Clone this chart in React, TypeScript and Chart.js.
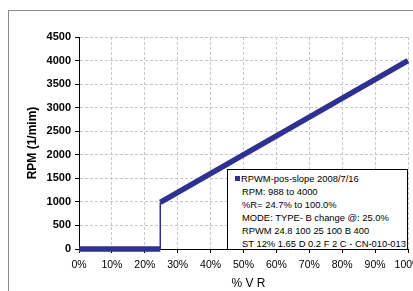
import React, { useEffect, useRef } from "react";
import { Chart, registerables } from "chart.js";

Chart.register(...registerables);

const xPercent = [0, 24.7, 24.7, 100];
const rpmValues = [0, 0, 988, 4000];
const xTickStep = 10;
const yTickStep = 500;
const yMax = 4500;
const seriesName = "RPWM-pos-slope 2008/7/16";
const legendNotes = [
  "RPM: 988 to 4000",
  "%R= 24.7% to 100.0%",
  "MODE: TYPE- B change @: 25.0%",
  "RPWM 24.8 100 25 100 B 400",
  "ST 12% 1.65 D 0.2 F 2 C - CN-010-013",
];
const yTitle = "RPM (1/mim)";
const xTitle = "% V R";

const LINE_COLOR = "#2e3192";
const FONT = "Arial, 'Liberation Sans', sans-serif";

export default function App() {
  const canvasRef = useRef<HTMLCanvasElement | null>(null);

  useEffect(() => {
    const canvas = canvasRef.current;
    if (!canvas) return;
    const points = xPercent.map((x, i) => ({ x, y: rpmValues[i] }));
    const chart = new Chart(canvas, {
      type: "scatter",
      data: {
        datasets: [
          {
            label: seriesName,
            data: points,
            showLine: true,
            borderColor: LINE_COLOR,
            backgroundColor: LINE_COLOR,
            borderWidth: 5.5,
            borderCapStyle: "butt",
            borderJoinStyle: "miter",
            pointRadius: 0,
            clip: false as any,
            segment: {
              borderWidth: (ctx: any) =>
                ctx.p0.parsed.x === ctx.p1.parsed.x ? 1.5 : 5.5,
            },
          } as any,
        ],
      },
      options: {
        animation: false,
        responsive: false,
        maintainAspectRatio: false,
        layout: { padding: { top: 37, right: 5, left: 0, bottom: 0 } },
        plugins: {
          legend: { display: false },
          tooltip: { enabled: false },
        },
        scales: {
          x: {
            type: "linear",
            min: 0,
            max: 100,
            afterFit: (scale: any) => {
              scale.height = 42;
              scale.paddingLeft = 0;
              scale.paddingRight = 0;
            },
            ticks: {
              stepSize: xTickStep,
              autoSkip: false,
              maxRotation: 0,
              padding: 6,
              color: "#000",
              font: { family: FONT, size: 10.5 },
              callback: (v: any) => `${v}%`,
            },
            grid: {
              color: "#c8c8c8",
              lineWidth: 1,
              tickColor: "#000",
              tickLength: 4,
            },
            border: { display: true, color: "#000", width: 1, dash: [3, 2] },
            title: {
              display: true,
              text: "   " + xTitle,
              color: "#000",
              font: { family: FONT, size: 12 },
              padding: { top: 0, bottom: 0 },
            },
          },
          y: {
            type: "linear",
            min: 0,
            max: yMax,
            afterFit: (scale: any) => {
              scale.width = 79;
              scale.paddingTop = 0;
              scale.paddingBottom = 0;
            },
            ticks: {
              stepSize: yTickStep,
              padding: 4,
              color: "#000",
              font: { family: FONT, size: 11, weight: "bold" },
              callback: (v: any) => String(v),
            },
            grid: {
              color: "#c8c8c8",
              lineWidth: 1,
              tickColor: "#000",
              tickLength: 4,
            },
            border: { display: true, color: "#000", width: 1, dash: [3, 2] },
            title: {
              display: true,
              text: yTitle,
              color: "#000",
              font: { family: FONT, size: 12, weight: "bold" },
              padding: { top: 25, bottom: 0 },
            },
          },
        },
      },
    });
    return () => chart.destroy();
  }, []);

  return (
    <div
      style={{
        position: "absolute",
        left: 0,
        top: 0,
        width: 413,
        height: 291,
        overflow: "hidden",
        background: "#fff",
      }}
    >
      <div
        style={{
          position: "absolute",
          left: 8,
          top: 10,
          width: 430,
          height: 300,
          borderLeft: "1px solid #8a8a8a",
          borderTop: "1px solid #8a8a8a",
        }}
      />
      <canvas
        ref={canvasRef}
        width={413}
        height={291}
        style={{ position: "absolute", left: 0, top: 0, width: 413, height: 291 }}
      />
      <div
        style={{
          position: "absolute",
          left: 227,
          top: 169,
          width: 181,
          height: 81,
          boxSizing: "border-box",
          border: "1px solid #000",
          background: "#fff",
          fontFamily: FONT,
          fontSize: 9.4,
          lineHeight: "13px",
          color: "#000",
          paddingTop: 1.5,
          paddingLeft: 13,
          whiteSpace: "nowrap",
        }}
      >
        <div style={{ position: "relative" }}>
          <span
            style={{
              position: "absolute",
              left: -6,
              top: 4,
              width: 5,
              height: 5,
              background: LINE_COLOR,
            }}
          />
          {seriesName}
        </div>
        {legendNotes.map((t) => (
          <div key={t} style={{ paddingLeft: 1 }}>
            {t}
          </div>
        ))}
      </div>
    </div>
  );
}
